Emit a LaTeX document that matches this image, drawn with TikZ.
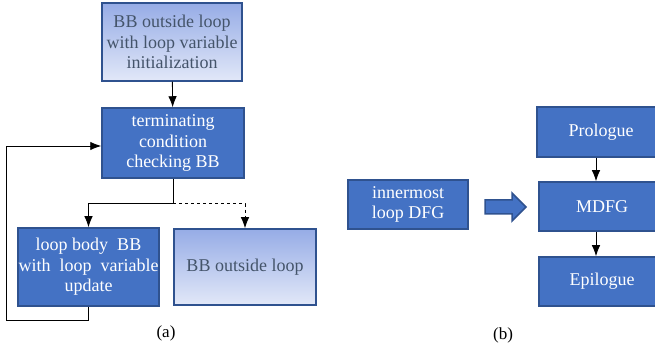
\documentclass[tikz,border=0pt]{standalone}
\usepackage{fontspec}
\setmainfont{Liberation Serif}
\usetikzlibrary{arrows.meta}
\definecolor{boxblue}{RGB}{68,114,196}
\definecolor{boxedge}{RGB}{47,82,143}
\definecolor{fadetop}{RGB}{150,172,230}
\definecolor{fadebot}{RGB}{226,232,248}
\definecolor{fadetext}{RGB}{68,84,106}
\tikzset{
  solidbox/.style={draw=boxedge, line width=1.5pt, fill=boxblue, text=white, align=center,
    font=\fontsize{18}{20.5}\selectfont, inner sep=0pt},
  fadebox/.style={draw=boxedge, line width=1.5pt, top color=fadetop, bottom color=fadebot,
    text=fadetext, align=center, font=\fontsize{18}{20.5}\selectfont, inner sep=0pt},
  flow/.style={line width=0.9pt, -{Latex[length=11pt,width=8.5pt]}},
  caption/.style={font=\fontsize{17}{20}\selectfont}
}
\begin{document}
\begin{tikzpicture}[x=1pt,y=-1pt]
			%%%%% START %%%%%
			\useasboundingbox (0,0) rectangle (655,352);
			\clip (0,0) rectangle (655,352);
			
			% (a) loop structure
			\node[fadebox, minimum width=140, minimum height=78] (init) at (172,42)
			  {BB outside loop\\with loop variable\\initialization};
			\node[solidbox, minimum width=142, minimum height=70] (cond) at (173,143)
			  {terminating\\condition\\checking BB};
			\node[solidbox, minimum width=141, minimum height=78] (body) at (88.5,267)
			  {loop body~~BB\\with~~loop~~variable\\update};
			\node[fadebox, minimum width=142, minimum height=76] (exit) at (245,267)
			  {BB outside loop};
			
			\draw[flow] (init) -- (cond);
			\draw[line width=0.9pt] (cond.south) -- ++(0,25) coordinate (split);
			\draw[flow] (split) -| (body.north);
			\draw[flow, dashed] (split) -| (exit.north);
			\draw[flow] (body.south) -- ++(0,14) -| ([xshift=-95pt, yshift=-3pt]cond.west)
			  -- ([yshift=-3pt]cond.west);
			
			\node[caption] (capa) at (166,333) {(a)};
			
			% (b) modulo scheduled DFG
			\node[solidbox, minimum width=120, minimum height=49] (dfg) at (408,204.5)
			  {innermost\\loop DFG};
			\node[solidbox, minimum width=128, minimum height=50] (pro) at (601,132) {Prologue};
			\node[solidbox, minimum width=126, minimum height=49] (mdfg) at (602,206.5) {MDFG};
			\node[solidbox, minimum width=126, minimum height=49] (epi) at (602,281.5) {Epilogue};
			
			\draw[boxedge, line width=1.5pt, fill=boxblue] (485,200) -- (512,200) -- (512,193)
			  -- (526,207) -- (512,221) -- (512,214) -- (485,214) -- cycle;
			
			\draw[flow] (pro.south -| 596,0) -- (mdfg.north -| 596,0);
			\draw[flow] (mdfg.south -| 596,0) -- (epi.north -| 596,0);
			
			\node[caption] (capb) at (503,335) {(b)};
			%%%%% END %%%%%
\end{tikzpicture}
\end{document}
